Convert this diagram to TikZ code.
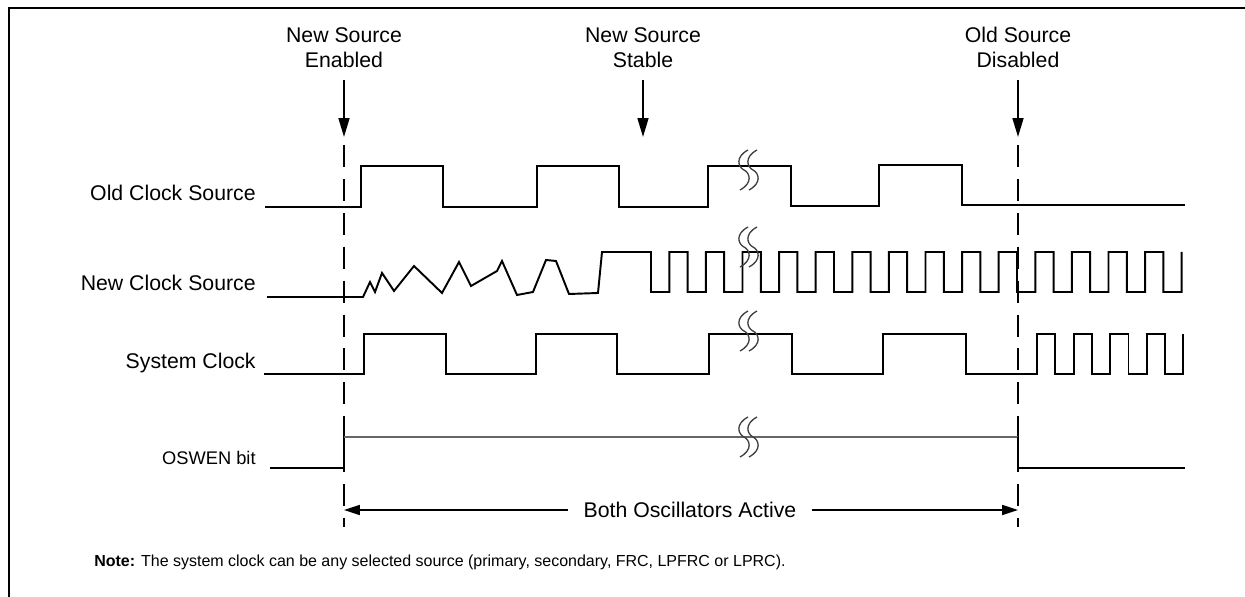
\documentclass[tikz,border=0pt]{standalone}
\usepackage{fontspec}
\setmainfont{Liberation Sans}
\usepackage{tikz}
\usetikzlibrary{arrows.meta}
\tikzset{
  wave/.style={line width=1.1pt,line join=miter},
  thinwave/.style={line width=0.6pt,draw=black!60},
  marker/.style={line width=1.1pt,dash pattern=on 12.5pt off 6.8pt},
  event/.style={-{Triangle[length=10.8pt,width=6.2pt]},line width=1.1pt,shorten <=6.8pt},
  spanarrow/.style={-{Triangle[length=9pt,width=5.6pt]},line width=1.1pt},
  siglabel/.style={anchor=base east,inner sep=0pt,font=\fontsize{12.1}{14.2}\selectfont},
  evtext/.style={anchor=south,align=center,inner sep=0pt,font=\fontsize{12.1}{14.2}\selectfont},
  spantext/.style={inner xsep=8.5pt,inner ysep=1pt,font=\fontsize{12.1}{14.2}\selectfont},
  notetext/.style={anchor=base west,inner sep=0pt,font=\fontsize{9.1}{11}\selectfont},
  gapline/.style={line width=0.75pt,draw=black!75},
  frame/.style={line width=1.1pt}
}
% break mark: two s-curves centred at (#1,#2)
\newcommand{\gapmark}[2]{%
  \foreach \dx in {0,9}{
    \draw[gapline] ({#1+\dx+4},{#2-20}) .. controls ({#1+\dx-9},{#2-13}) and ({#1+\dx-6},{#2-3}) .. ({#1+\dx},{#2})
      .. controls ({#1+\dx+6},{#2+3}) and ({#1+\dx+9},{#2+13}) .. ({#1+\dx-4},{#2+20});
  }}

\begin{document}
\begin{tikzpicture}[x=0.02cm,y=-0.02cm]
  \useasboundingbox (0,0) rectangle (1245,597);
  \draw[frame] (1250,8) -- (9,8) -- (9,605);

  % signal names
  \node[siglabel] (lblold) at (256,201) {Old Clock Source};
  \node[siglabel] (lblnew) at (256,291) {New Clock Source};
  \node[siglabel] (lblsys) at (256,369) {System Clock};
  \node[siglabel,font=\fontsize{10.4}{12.5}\selectfont] (lblosw) at (256,465) {OSWEN bit};

  % events
  \node[evtext] (evenable) at (344,68) {New Source\\Enabled};
  \node[evtext] (evstable) at (643,68) {New Source\\Stable};
  \node[evtext] (evdisable) at (1018,68) {Old Source\\Disabled};
  \coordinate (enabtip) at (344,137);
  \coordinate (stabtip) at (643,137);
  \coordinate (distip) at (1018,137);
  \draw[event] (evenable.south) -- (enabtip);
  \draw[event] (evstable.south) -- (stabtip);
  \draw[event] (evdisable.south) -- (distip);
  \draw[marker] (344,145) -- (344,527);
  \draw[marker] (1018,145) -- (1018,527);

  % old clock source
  \draw[wave] (265,207) -- (361,207) -- (361,166) -- (443,166) -- (443,207) -- (537,207) -- (537,166)
    -- (619,166) -- (619,207) -- (708,207) -- (708,166) -- (791,166) -- (791,206) -- (879,206)
    -- (879,165) -- (962,165) -- (962,205) -- (1185,205);

  % new clock source
  \draw[wave] (267,297) -- (363,297) -- (370,282) -- (375,292) -- (382,273) -- (394,291) -- (414,266)
    -- (442,293) -- (459,262) -- (471,286) -- (497,271) -- (502,261) -- (517,295) -- (533,292)
    -- (546,260) -- (556,261) -- (569,294) -- (598,293) -- (602,252) -- (651,252)
    foreach \k in {1,...,14}{ -- ++(0,40) -- ++(18.3,0) -- ++(0,-40) -- ++(18.3,0) }
    -- ++(0,40) -- ++(18.3,0) -- ++(0,-40);

  % system clock
  \draw[wave] (264,374) -- (364,374) -- (364,334) -- (446,334) -- (446,374) -- (536,374) -- (536,334)
    -- (617,334) -- (617,374) -- (709,374) -- (709,334) -- (792,334) -- (792,374) -- (883,374)
    -- (883,334) -- (966,334) -- (966,374) -- (1037,374)
    foreach \k in {1,...,4}{ -- ++(0,-40) -- ++(18.3,0) -- ++(0,40) -- ++(18.3,0) }
    -- ++(0,-40);

  % oswen bit
  \draw[wave] (270,468) -- (344,468) -- (344,437);
  \draw[thinwave] (344,437) -- (1018,437);
  \draw[wave] (1018,437) -- (1018,468) -- (1185,468);

  % break marks
  \gapmark{744}{170}
  \gapmark{744}{247}
  \gapmark{744}{331}
  \gapmark{744}{437}

  % both oscillators active
  \node[spantext] (osc) at (690,510) {Both Oscillators Active};
  \coordinate (oscL) at (344,510);
  \coordinate (oscR) at (1018,510);
  \draw[spanarrow] (osc.west) -- (oscL);
  \draw[spanarrow] (osc.east) -- (oscR);

  \node[notetext] (note) at (94,567) {\textbf{Note:} The system clock can be any selected source (primary, secondary, FRC, LPFRC or LPRC).};
\end{tikzpicture}
\end{document}
